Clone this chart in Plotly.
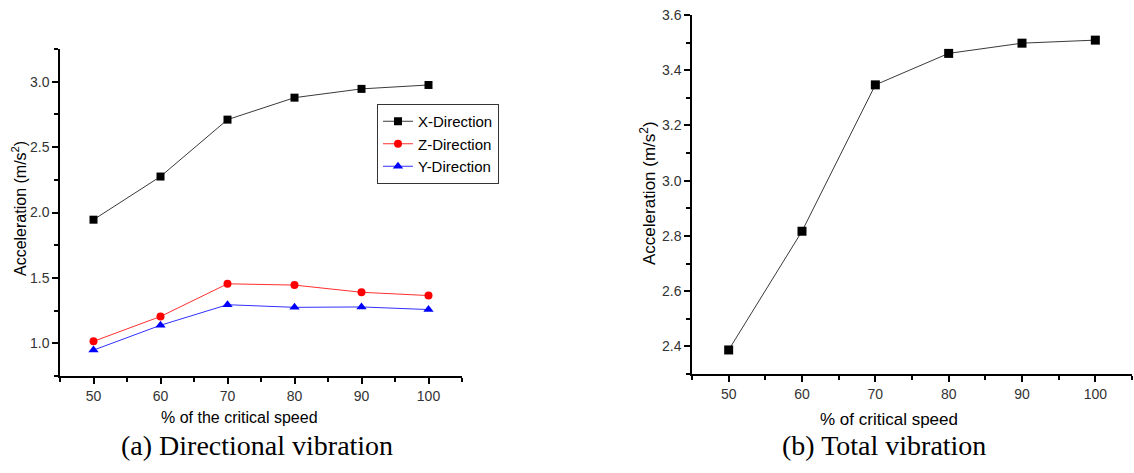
import plotly.graph_objects as go

# Percentage of the critical speed
speed = [50, 60, 70, 80, 90, 100]

# Directional acceleration (m/s^2)
x_dir = [1.945, 2.275, 2.71, 2.878, 2.945, 2.975]
z_dir = [1.015, 1.205, 1.455, 1.445, 1.39, 1.365]
y_dir = [0.948, 1.138, 1.295, 1.275, 1.278, 1.258]

# Total acceleration (m/s^2)
total = [2.387, 2.817, 3.347, 3.461, 3.498, 3.509]

W, H = 1134, 473


def px_x(p):
    return p / W


def px_y(p):
    return 1 - p / H


fig = go.Figure()

fig.add_trace(go.Scatter(
    x=speed, y=x_dir, name="X-Direction", mode="lines+markers",
    line=dict(color="#3a3a3a", width=1),
    marker=dict(symbol="square", size=8, color="black"),
    xaxis="x", yaxis="y",
))
fig.add_trace(go.Scatter(
    x=speed, y=z_dir, name="Z-Direction", mode="lines+markers",
    line=dict(color="#ff3030", width=1),
    marker=dict(symbol="circle", size=8, color="#ff0000"),
    xaxis="x", yaxis="y",
))
fig.add_trace(go.Scatter(
    x=speed, y=y_dir, name="Y-Direction", mode="lines+markers",
    line=dict(color="#3030ff", width=1),
    marker=dict(symbol="triangle-up", size=9, color="#0000ff"),
    xaxis="x", yaxis="y",
))
fig.add_trace(go.Scatter(
    x=speed, y=total, name="Total", mode="lines+markers",
    line=dict(color="#3a3a3a", width=1),
    marker=dict(symbol="square", size=9, color="black"),
    xaxis="x2", yaxis="y2", showlegend=False,
))

axis_common = dict(
    showgrid=False, zeroline=False, showline=True, automargin=False,
    linecolor="black", linewidth=1.5,
    ticks="outside", ticklen=6, tickwidth=1.5, tickcolor="black",
    tickfont=dict(family="Liberation Sans, Arial", size=14, color="#333333"),
    mirror=False,
)

fig.update_layout(
    width=W, height=H,
    margin=dict(l=0, r=0, t=0, b=0, autoexpand=False),
    paper_bgcolor="white", plot_bgcolor="white",
    xaxis=dict(
        domain=[px_x(60), px_x(462)], range=[45, 105],
        tickvals=speed, anchor="y",
        minor=dict(dtick=5, tick0=45, ticks="outside", ticklen=4,
                   tickwidth=1.5, tickcolor="black"),
        **axis_common,
    ),
    yaxis=dict(
        domain=[px_y(376), px_y(49)], range=[0.75, 3.25],
        tickvals=[1.0, 1.5, 2.0, 2.5, 3.0], tickformat=".1f", anchor="x",
        minor=dict(dtick=0.25, tick0=0.75, ticks="outside", ticklen=4,
                   tickwidth=1.5, tickcolor="black"),
        **axis_common,
    ),
    xaxis2=dict(
        domain=[px_x(692), px_x(1132)], range=[45, 105],
        tickvals=speed, anchor="y2",
        minor=dict(dtick=5, tick0=45, ticks="outside", ticklen=4,
                   tickwidth=1.5, tickcolor="black"),
        **axis_common,
    ),
    yaxis2=dict(
        domain=[px_y(374), px_y(15)], range=[2.3, 3.6],
        tickvals=[2.4, 2.6, 2.8, 3.0, 3.2, 3.4, 3.6], tickformat=".1f",
        anchor="x2",
        minor=dict(dtick=0.1, tick0=2.3, ticks="outside", ticklen=4,
                   tickwidth=1.5, tickcolor="black"),
        **axis_common,
    ),
    legend=dict(
        x=px_x(377), y=px_y(104), xanchor="left", yanchor="top",
        bordercolor="#333333", borderwidth=1, bgcolor="white",
        font=dict(family="Liberation Sans, Arial", size=15, color="black"),
        tracegroupgap=0, itemwidth=30,
    ),
    showlegend=True,
)

sans = "Liberation Sans, Arial"
serif = "Liberation Serif, Times New Roman"
annotations = [
    dict(text="Acceleration (m/s<sup>2</sup>)", x=px_x(19), y=px_y(209),
         textangle=-90, font=dict(family=sans, size=16, color="black")),
    dict(text="Acceleration (m/s<sup>2</sup>)", x=px_x(648), y=px_y(193),
         textangle=-90, font=dict(family=sans, size=17, color="black")),
    dict(text="% of the critical speed", x=px_x(239), y=px_y(417),
         font=dict(family=sans, size=16, color="black")),
    dict(text="% of critical speed", x=px_x(889), y=px_y(419),
         font=dict(family=sans, size=17, color="black")),
    dict(text="(a) Directional vibration", x=px_x(257), y=px_y(445),
         font=dict(family=serif, size=28, color="black")),
    dict(text="(b) Total vibration", x=px_x(884), y=px_y(445),
         font=dict(family=serif, size=28, color="black")),
]
for a in annotations:
    a.update(xref="paper", yref="paper", showarrow=False,
             xanchor="center", yanchor="middle")
fig.update_layout(annotations=annotations)

fig.write_html("out.html")
